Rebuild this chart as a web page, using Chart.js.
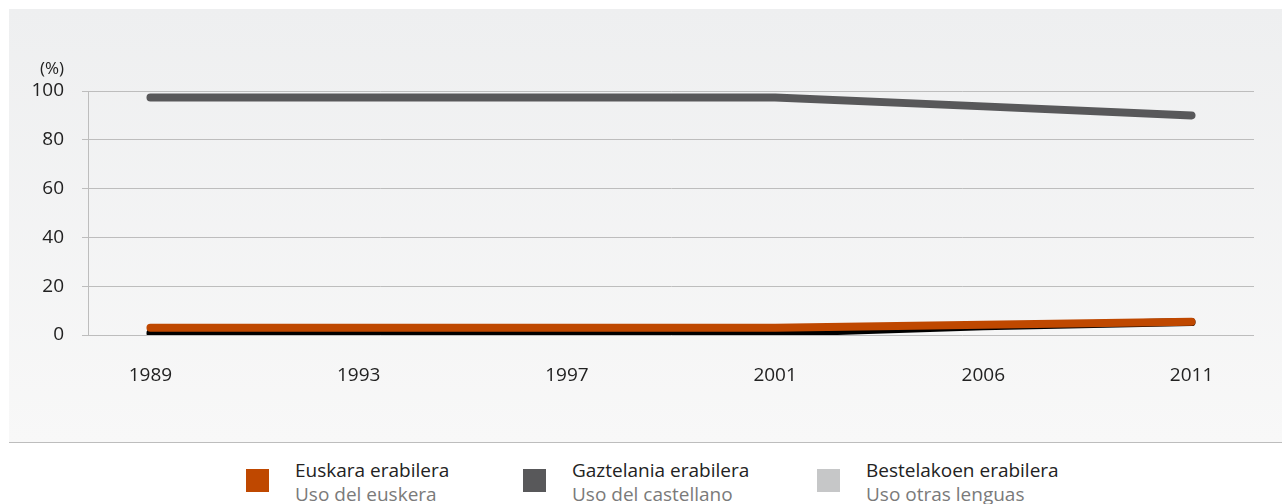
<!DOCTYPE html>
<html>
<head>
<meta charset="utf-8">
<script src="https://cdn.jsdelivr.net/npm/chart.js@4"></script>
<style>
  body { margin: 0; width: 1282px; height: 504px; background: #fff; font-family: "Open Sans", "Noto Sans", sans-serif; overflow: hidden; position: relative; }
  #panel { position: absolute; left: 9px; top: 9px; width: 1273px; height: 433px; background: linear-gradient(#eeeff0, #f8f8f8); }
  #sep { position: absolute; left: 9px; top: 442px; width: 1273px; height: 1px; background: #bdbdbd; }
  .item { position: absolute; top: 457px; }
  .sw { position: absolute; top: 12px; width: 23px; height: 23px; }
  .t1 { position: absolute; left: 49px; top: 0; white-space: nowrap; font-size: 19px; line-height: 26px; color: #222; }
  .t2 { position: absolute; left: 49px; top: 24px; white-space: nowrap; font-size: 19px; line-height: 26px; color: #7a7a7a; }
</style>
</head>
<body>
<div id="panel"><canvas id="langChart"></canvas></div>
<div id="sep"></div>
<div id="legend"></div>
<script>
const years = ['1989', '1993', '1997', '2001', '2006', '2011'];
const euskara = [3, 3, 3, 3, 4.2, 5.4];
const gaztelania = [97.3, 97.3, 97.3, 97.3, 93.7, 90];
const bestelakoen = [0.8, 0.8, 0.8, 0.8, 3.6, 5.3];
const yTicks = [0, 20, 40, 60, 80, 100];

const legendItems = [
  { eu: 'Euskara erabilera', es: 'Uso del euskera', color: '#bf4800', x: 246 },
  { eu: 'Gaztelania erabilera', es: 'Uso del castellano', color: '#58585a', x: 523 },
  { eu: 'Bestelakoen erabilera', es: 'Uso otras lenguas', color: '#c6c7c8', x: 817 }
];

const legend = document.getElementById('legend');
legendItems.forEach(it => {
  const d = document.createElement('div');
  d.className = 'item';
  d.style.left = it.x + 'px';
  d.innerHTML = `<div class="sw" style="background:${it.color}"></div><div class="t1">${it.eu}</div><div class="t2">${it.es}</div>`;
  legend.appendChild(d);
});

const toPoints = arr => arr.map((v, i) => ({ x: i, y: v }));

const line = (label, values, color) => ({
  label,
  data: toPoints(values),
  borderColor: color,
  backgroundColor: color,
  borderWidth: 8,
  borderCapStyle: 'round',
  borderJoinStyle: 'round',
  pointRadius: 0,
  tension: 0
});

const tickFont = { family: '"Open Sans", "Noto Sans", sans-serif', size: 19 };

// "(%)" unit label above the y axis
const unitLabel = {
  id: 'unitLabel',
  afterDraw(chart) {
    const { ctx } = chart;
    const y = chart.scales.y;
    ctx.save();
    ctx.font = '17px "Open Sans", "Noto Sans", sans-serif';
    ctx.fillStyle = '#222';
    ctx.textAlign = 'right';
    ctx.textBaseline = 'middle';
    ctx.fillText('(%)', y.right - 6 - 18, 60);
    ctx.restore();
  }
};

const canvas = document.getElementById('langChart');
canvas.width = 1273;
canvas.height = 433;

new Chart(canvas, {
  type: 'line',
  data: {
    datasets: [
      line('Euskara erabilera', euskara, '#bf4800'),
      line('Gaztelania erabilera', gaztelania, '#58585a'),
      line('Bestelakoen erabilera', bestelakoen, '#000000')
    ]
  },
  options: {
    responsive: false,
    animation: false,
    layout: { padding: { left: 0, right: 28, top: 82, bottom: 0 } },
    plugins: { legend: { display: false }, tooltip: { enabled: false } },
    scales: {
      x: {
        type: 'linear',
        min: -0.3,
        max: 5.3,
        afterBuildTicks: axis => { axis.ticks = years.map((_, i) => ({ value: i })); },
        afterFit: axis => { axis.height = 107; },
        grid: { display: false, drawTicks: false },
        border: { display: false },
        ticks: {
          padding: 29,
          color: '#222',
          font: tickFont,
          callback: v => years[v]
        }
      },
      y: {
        min: 0,
        max: 100,
        afterBuildTicks: axis => { axis.ticks = yTicks.map(v => ({ value: v })); },
        afterFit: axis => { axis.width = 79; },
        grid: { color: '#bdbdbd', tickLength: 6, lineWidth: 1 },
        border: { display: true, color: '#bdbdbd' },
        ticks: {
          padding: 18,
          color: '#222',
          font: tickFont
        }
      }
    }
  },
  plugins: [unitLabel]
});
</script>
</body>
</html>
